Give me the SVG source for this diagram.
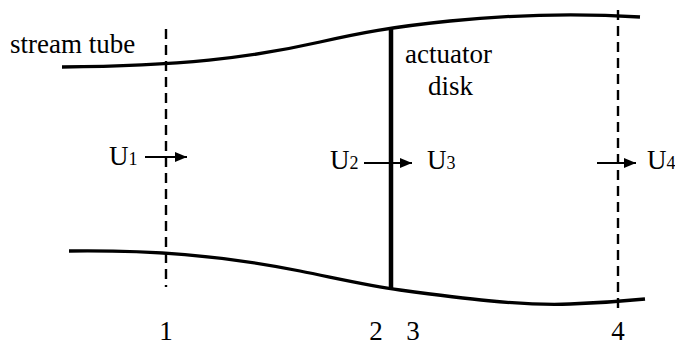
<svg xmlns="http://www.w3.org/2000/svg" width="675" height="347" viewBox="0 0 675 347">
<defs>
<style>
.t{font-family:"Liberation Serif","Times New Roman",serif;font-size:27px;fill:#000}
.s{font-size:18px}
.curve{fill:none;stroke:#000;stroke-width:3.3}
.dash{fill:none;stroke:#000;stroke-width:2.4;stroke-dasharray:10 6}
.arr{fill:none;stroke:#000;stroke-width:2.2;marker-end:url(#ah)}
</style>
<marker id="ah" viewBox="0 0 12 10" refX="12" refY="5" markerWidth="12" markerHeight="10" markerUnits="userSpaceOnUse" orient="auto">
<path d="M0,0 L12,5 L0,10 Z" fill="#000"/>
</marker>
</defs>
<rect width="675" height="347" fill="#fff"/>
<g id="streamtube">
<path class="curve" d="M62,67 C180,66 250,58 320,42 C360,33 391,27 450,21 C520,14 590,14 640,17"/>
<path class="curve" d="M69,251 C150,250 220,255 300,271 C340,279 370,286 400,290 C460,298 520,306 570,304 C600,303 625,301 645,299"/>
<text class="t" font-family="Liberation Serif, serif" x="10" y="53">stream tube</text>
</g>
<g id="disk">
<line x1="391" y1="27" x2="391" y2="289" stroke="#000" stroke-width="4.5"/>
<text class="t" font-family="Liberation Serif, serif" x="405" y="63">actuator</text>
<text class="t" font-family="Liberation Serif, serif" x="428" y="95">disk</text>
</g>
<g id="station1">
<line class="dash" x1="166" y1="29" x2="166" y2="287"/>
<text class="t" font-family="Liberation Serif, serif" x="166" y="340" text-anchor="middle">1</text>
</g>
<g id="station4">
<line class="dash" x1="618" y1="10" x2="618" y2="314"/>
<text class="t" font-family="Liberation Serif, serif" x="618" y="340" text-anchor="middle">4</text>
</g>
<g id="labels">
<text class="t" font-family="Liberation Serif, serif" x="376" y="340" text-anchor="middle">2</text>
<text class="t" font-family="Liberation Serif, serif" x="413" y="340" text-anchor="middle">3</text>
<text class="t" font-family="Liberation Serif, serif" x="109" y="165">U<tspan class="s">1</tspan></text>
<text class="t" font-family="Liberation Serif, serif" x="330" y="169">U<tspan class="s">2</tspan></text>
<text class="t" font-family="Liberation Serif, serif" x="427" y="169">U<tspan class="s">3</tspan></text>
<text class="t" font-family="Liberation Serif, serif" x="647" y="169">U<tspan class="s">4</tspan></text>
</g>
<g id="connectors">
<line class="arr" x1="145" y1="157" x2="187" y2="157"/>
<line class="arr" x1="364" y1="163" x2="412" y2="163"/>
<line class="arr" x1="597" y1="163" x2="636" y2="163"/>
</g>
</svg>
